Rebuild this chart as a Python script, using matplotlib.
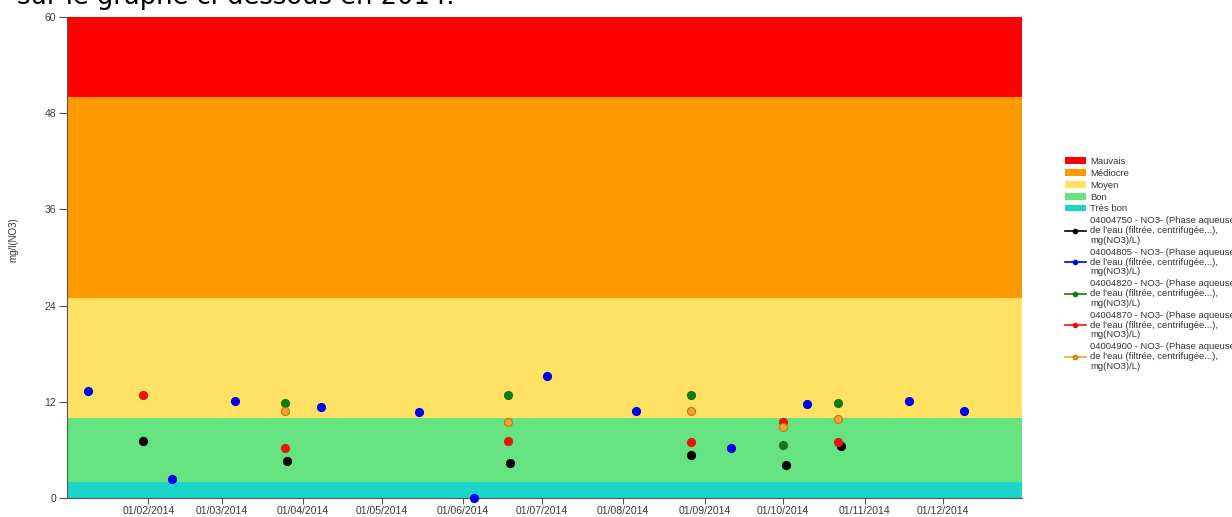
import numpy as np
import matplotlib
matplotlib.use("Agg")
import matplotlib.pyplot as plt
import matplotlib.dates as mdates
from matplotlib.patches import Patch
from matplotlib.lines import Line2D
from datetime import datetime

# quality bands (mg/l NO3)
band_names = ["Mauvais", "Médiocre", "Moyen", "Bon", "Très bon"]
band_low = [50, 25, 10, 2, 0]
band_high = [60, 50, 25, 10, 2]
band_colors = ["#ff0000", "#ff9900", "#ffe163", "#66e380", "#1ad6c8"]

# stations
stations = ["04004750", "04004805", "04004820", "04004870", "04004900"]
station_colors = ["#000000", "#0000ee", "#127a12", "#ee1111", "#f5a030"]

dates_750 = ["2014-01-30", "2014-03-26", "2014-06-19", "2014-08-27", "2014-10-02", "2014-10-23"]
vals_750 = [7.1, 4.6, 4.4, 5.4, 4.1, 6.5]

dates_805 = ["2014-01-09", "2014-02-10", "2014-03-06", "2014-04-08", "2014-05-15", "2014-06-05",
             "2014-07-03", "2014-08-06", "2014-09-11", "2014-10-10", "2014-11-18", "2014-12-09"]
vals_805 = [13.4, 2.4, 12.1, 11.4, 10.7, 0.0, 15.2, 10.8, 6.2, 11.7, 12.1, 10.9]

dates_820 = ["2014-03-25", "2014-06-18", "2014-08-27", "2014-10-01", "2014-10-22"]
vals_820 = [11.8, 12.9, 12.9, 6.6, 11.9]

dates_870 = ["2014-01-30", "2014-03-25", "2014-06-18", "2014-08-27", "2014-10-01", "2014-10-22"]
vals_870 = [12.8, 6.2, 7.1, 7.0, 9.5, 7.0]

dates_900 = ["2014-03-25", "2014-06-18", "2014-08-27", "2014-10-01", "2014-10-22"]
vals_900 = [10.8, 9.5, 10.9, 8.9, 9.9]

series = [(dates_750, vals_750), (dates_805, vals_805), (dates_820, vals_820),
          (dates_870, vals_870), (dates_900, vals_900)]

label_tail = " - NO3- (Phase aqueuse\nde l'eau (filtrée, centrifugée...),\nmg(NO3)/L)"

plt.rcParams['font.family'] = ['Liberation Sans', 'DejaVu Sans']

fig = plt.figure(figsize=(12.32, 5.17), dpi=100)
ax = fig.add_axes([67 / 1232, 19 / 517, 955 / 1232, 481 / 517])

x0 = datetime(2014, 1, 1)
x1 = datetime(2014, 12, 31)

for lo, hi, c in zip(band_low, band_high, band_colors):
    ax.axhspan(lo, hi, color=c, lw=0, zorder=0)

for (d, v), c in zip(series, station_colors):
    dd = [datetime.strptime(s, "%Y-%m-%d") for s in d]
    edge = "#c07a10" if c == "#f5a030" else c
    ax.plot(dd, v, linestyle="none", marker="o", ms=5.8, color=c,
            markeredgecolor=edge, markeredgewidth=0.8, zorder=3, clip_on=False)

ax.set_xlim(x0, x1)
ax.set_ylim(0, 60)
ax.set_yticks([0, 12, 24, 36, 48, 60])
ax.set_xticks([datetime(2014, m, 1) for m in range(2, 13)])
ax.xaxis.set_major_formatter(mdates.DateFormatter("%d/%m/%Y"))
ax.tick_params(axis="both", labelsize=7.5, colors="#555555", labelcolor="#383838",
               length=4, width=0.8)
ax.tick_params(axis="x", pad=2)
ax.tick_params(axis="y", length=6, pad=2)
for s in ["top", "right"]:
    ax.spines[s].set_visible(False)
for s in ["left", "bottom"]:
    ax.spines[s].set_color("#555555")
    ax.spines[s].set_linewidth(0.8)

fig.text(13 / 1232, 1 - 240 / 517, "mg/l(NO3)", rotation=90, fontsize=7,
         color="#333333", ha="center", va="center")

# cropped intro sentence at the very top
fig.text(17 / 1232, 1 - 4 / 517, "sur le graphe ci-dessous en 2014.", fontsize=18.5,
         color="black", ha="left", va="baseline", family="DejaVu Sans")

handles = [Patch(facecolor=c, edgecolor="none") for c in band_colors]
labels = list(band_names)
for st, c in zip(stations, station_colors):
    edge = "#c07a10" if c == "#f5a030" else c
    handles.append(Line2D([], [], color=c, marker="o", ms=3, lw=1.2, markeredgecolor=edge))
    labels.append(st + label_tail)

leg = fig.legend(handles, labels, loc="upper left", bbox_to_anchor=(1065 / 1232, 1 - 157 / 517),
                 frameon=False, fontsize=6.8, labelspacing=0.3, handlelength=2.2,
                 handleheight=0.75, handletextpad=0.45, borderpad=0, borderaxespad=0,
                 labelcolor="#333333")
for t in leg.get_texts():
    t.set_linespacing(1.12)

fig.savefig("out.png", dpi=100)
